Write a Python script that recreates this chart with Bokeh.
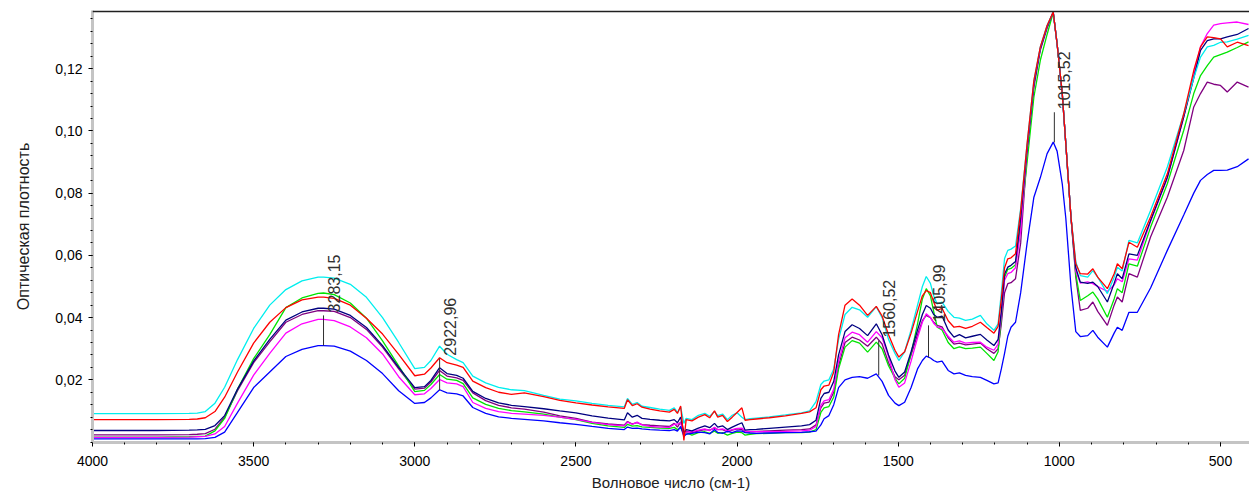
from bokeh.plotting import figure
from bokeh.models import Range1d, FixedTicker, CustomJSTickFormatter, BoxAnnotation
from bokeh.core.properties import value
from bokeh.embed import file_html
from bokeh.resources import INLINE

# Wavenumbers (cm-1)
wn = [4000, 3900, 3800, 3700, 3675, 3650, 3620, 3590, 3550, 3500,
      3450, 3400, 3350, 3300, 3283, 3250, 3200, 3150, 3100, 3050,
      3000, 2970, 2950, 2923, 2900, 2870, 2850, 2820, 2780, 2740,
      2700, 2660, 2600, 2550, 2500, 2450, 2400, 2350, 2340, 2325,
      2310, 2295, 2270, 2240, 2210, 2195, 2185, 2175, 2165, 2158,
      2140, 2120, 2100, 2085, 2070, 2060, 2045, 2030, 2015, 2000,
      1985, 1975, 1960, 1940, 1900, 1850, 1800, 1775, 1755, 1740,
      1730, 1715, 1700, 1685, 1665, 1643, 1620, 1595, 1568, 1550,
      1530, 1510, 1498, 1480, 1460, 1440, 1425, 1413, 1400, 1390,
      1379, 1364, 1345, 1327, 1310, 1291, 1270, 1245, 1225, 1203,
      1190, 1180, 1170, 1160, 1150, 1136, 1120, 1100, 1079, 1059,
      1038, 1019, 1007, 991, 980, 964, 949, 935, 912, 896,
      881, 851, 830, 820, 805, 784, 758, 717, 665, 614,
      583, 562, 541, 521, 500, 479, 448, 413]

cyan = [0.0091, 0.0091, 0.0091, 0.0092, 0.0093, 0.0098, 0.0125, 0.0176, 0.0265, 0.0365,
        0.0440, 0.0490, 0.0518, 0.0530, 0.0530, 0.0527, 0.0507, 0.0465, 0.0400, 0.0320,
        0.0236, 0.0240, 0.0262, 0.0308, 0.0282, 0.0265, 0.0255, 0.0212, 0.0190, 0.0176,
        0.0168, 0.0165, 0.0150, 0.0138, 0.0132, 0.0124, 0.0118, 0.0113, 0.0140, 0.0121,
        0.0127, 0.0115, 0.0111, 0.0106, 0.0102, 0.0110, 0.0095, 0.0112, 0.0060, 0.0076,
        0.0072, 0.0086, 0.0092, 0.0083, 0.0098, 0.0085, 0.0090, 0.0072, 0.0086, 0.0094,
        0.0080, 0.0072, 0.0075, 0.0077, 0.0081, 0.0087, 0.0094, 0.0100, 0.0130, 0.0185,
        0.0196, 0.0200, 0.0235, 0.0330, 0.0410, 0.0433, 0.0425, 0.0401, 0.0435, 0.0400,
        0.0330, 0.0285, 0.0262, 0.0290, 0.0360, 0.0440, 0.0500, 0.0532, 0.0510, 0.0470,
        0.0444, 0.0450, 0.0420, 0.0401, 0.0398, 0.0391, 0.0395, 0.0407, 0.0380, 0.0359,
        0.0380, 0.0480, 0.0590, 0.0616, 0.0620, 0.0630, 0.0750, 0.0959, 0.1162, 0.1270,
        0.1339, 0.1382, 0.1280, 0.1120, 0.0959, 0.0723, 0.0580, 0.0535, 0.0530, 0.0551,
        0.0530, 0.0477, 0.0530, 0.0562, 0.0550, 0.0648, 0.0640, 0.0744, 0.0884, 0.1055,
        0.1170, 0.1237, 0.1270, 0.1275, 0.1285, 0.1286, 0.1295, 0.1307]

red = [0.0072, 0.0072, 0.0072, 0.0073, 0.0074, 0.0078, 0.0098, 0.0144, 0.0225, 0.0318,
       0.0385, 0.0432, 0.0457, 0.0466, 0.0466, 0.0462, 0.0440, 0.0398, 0.0347, 0.0282,
       0.0213, 0.0218, 0.0238, 0.0271, 0.0255, 0.0247, 0.0240, 0.0196, 0.0175, 0.0160,
       0.0153, 0.0158, 0.0146, 0.0134, 0.0126, 0.0119, 0.0113, 0.0108, 0.0136, 0.0117,
       0.0123, 0.0112, 0.0106, 0.0100, 0.0096, 0.0105, 0.0092, 0.0116, 0.0005, 0.0072,
       0.0068, 0.0080, 0.0088, 0.0078, 0.0100, 0.0080, 0.0086, 0.0066, 0.0080, 0.0095,
       0.0110, 0.0070, 0.0072, 0.0074, 0.0078, 0.0084, 0.0092, 0.0097, 0.0110, 0.0168,
       0.0180, 0.0183, 0.0225, 0.0345, 0.0440, 0.0460, 0.0440, 0.0407, 0.0436, 0.0405,
       0.0345, 0.0295, 0.0273, 0.0290, 0.0350, 0.0420, 0.0470, 0.0487, 0.0480, 0.0450,
       0.0423, 0.0430, 0.0390, 0.0369, 0.0372, 0.0365, 0.0372, 0.0385, 0.0368, 0.0350,
       0.0372, 0.0460, 0.0560, 0.0589, 0.0592, 0.0605, 0.0744, 0.0959, 0.1162, 0.1270,
       0.1339, 0.1382, 0.1280, 0.1120, 0.0959, 0.0723, 0.0573, 0.0541, 0.0540, 0.0557,
       0.0530, 0.0493, 0.0541, 0.0573, 0.0557, 0.0642, 0.0626, 0.0723, 0.0862, 0.1055,
       0.1194, 0.1270, 0.1302, 0.1300, 0.1296, 0.1270, 0.1285, 0.1274]

navy = [0.0037, 0.0037, 0.0037, 0.0038, 0.0039, 0.0041, 0.0053, 0.0085, 0.0170, 0.0260,
        0.0330, 0.0392, 0.0418, 0.0430, 0.0430, 0.0427, 0.0407, 0.0368, 0.0310, 0.0240,
        0.0175, 0.0178, 0.0198, 0.0239, 0.0220, 0.0214, 0.0205, 0.0163, 0.0140, 0.0126,
        0.0118, 0.0114, 0.0107, 0.0100, 0.0094, 0.0084, 0.0077, 0.0071, 0.0094, 0.0080,
        0.0086, 0.0076, 0.0073, 0.0070, 0.0068, 0.0072, 0.0062, 0.0080, 0.0030, 0.0040,
        0.0036, 0.0045, 0.0052, 0.0046, 0.0060, 0.0048, 0.0052, 0.0040, 0.0048, 0.0055,
        0.0062, 0.0038, 0.0040, 0.0041, 0.0044, 0.0048, 0.0052, 0.0056, 0.0070, 0.0140,
        0.0156, 0.0160, 0.0195, 0.0280, 0.0355, 0.0377, 0.0365, 0.0342, 0.0380, 0.0345,
        0.0280, 0.0228, 0.0208, 0.0225, 0.0290, 0.0360, 0.0410, 0.0439, 0.0430, 0.0410,
        0.0401, 0.0405, 0.0360, 0.0337, 0.0345, 0.0335, 0.0340, 0.0346, 0.0328, 0.0310,
        0.0330, 0.0420, 0.0540, 0.0562, 0.0568, 0.0580, 0.0720, 0.0945, 0.1150, 0.1265,
        0.1335, 0.1382, 0.1280, 0.1120, 0.0959, 0.0723, 0.0560, 0.0514, 0.0510, 0.0514,
        0.0500, 0.0450, 0.0510, 0.0541, 0.0525, 0.0605, 0.0600, 0.0712, 0.0851, 0.1045,
        0.1170, 0.1259, 0.1290, 0.1296, 0.1296, 0.1302, 0.1310, 0.1329]

purple = [0.0023, 0.0023, 0.0023, 0.0024, 0.0025, 0.0027, 0.0041, 0.0080, 0.0165, 0.0255,
          0.0322, 0.0385, 0.0410, 0.0422, 0.0422, 0.0420, 0.0400, 0.0362, 0.0305, 0.0235,
          0.0170, 0.0173, 0.0193, 0.0230, 0.0212, 0.0206, 0.0198, 0.0158, 0.0133, 0.0118,
          0.0110, 0.0106, 0.0096, 0.0084, 0.0076, 0.0064, 0.0058, 0.0054, 0.0066, 0.0058,
          0.0062, 0.0056, 0.0054, 0.0052, 0.0050, 0.0060, 0.0048, 0.0065, 0.0025, 0.0035,
          0.0030, 0.0036, 0.0040, 0.0038, 0.0045, 0.0040, 0.0040, 0.0033, 0.0038, 0.0042,
          0.0040, 0.0032, 0.0033, 0.0034, 0.0036, 0.0038, 0.0040, 0.0042, 0.0055, 0.0110,
          0.0125, 0.0128, 0.0160, 0.0245, 0.0320, 0.0337, 0.0328, 0.0308, 0.0337, 0.0315,
          0.0255, 0.0210, 0.0200, 0.0215, 0.0280, 0.0345, 0.0390, 0.0407, 0.0400, 0.0385,
          0.0375, 0.0370, 0.0335, 0.0315, 0.0318, 0.0312, 0.0315, 0.0318, 0.0300, 0.0285,
          0.0300, 0.0380, 0.0480, 0.0509, 0.0512, 0.0525, 0.0640, 0.0930, 0.1140, 0.1260,
          0.1330, 0.1380, 0.1280, 0.1120, 0.0959, 0.0723, 0.0530, 0.0423, 0.0430, 0.0450,
          0.0420, 0.0375, 0.0440, 0.0466, 0.0450, 0.0541, 0.0530, 0.0659, 0.0787, 0.0937,
          0.1077, 0.1120, 0.1157, 0.1150, 0.1146, 0.1125, 0.1157, 0.1141]

magenta = [0.0015, 0.0015, 0.0015, 0.0016, 0.0017, 0.0018, 0.0026, 0.0050, 0.0125, 0.0215,
           0.0285, 0.0350, 0.0380, 0.0394, 0.0394, 0.0390, 0.0370, 0.0335, 0.0283, 0.0210,
           0.0152, 0.0155, 0.0172, 0.0201, 0.0190, 0.0187, 0.0178, 0.0127, 0.0108, 0.0098,
           0.0092, 0.0090, 0.0086, 0.0080, 0.0073, 0.0063, 0.0056, 0.0052, 0.0064, 0.0057,
           0.0064, 0.0055, 0.0050, 0.0048, 0.0047, 0.0057, 0.0058, 0.0062, 0.0025, 0.0032,
           0.0033, 0.0038, 0.0042, 0.0037, 0.0047, 0.0040, 0.0042, 0.0036, 0.0040, 0.0044,
           0.0045, 0.0034, 0.0034, 0.0033, 0.0033, 0.0034, 0.0036, 0.0038, 0.0050, 0.0118,
           0.0132, 0.0136, 0.0170, 0.0260, 0.0335, 0.0353, 0.0345, 0.0321, 0.0355, 0.0335,
           0.0275, 0.0200, 0.0176, 0.0190, 0.0260, 0.0335, 0.0385, 0.0412, 0.0400, 0.0382,
           0.0370, 0.0365, 0.0340, 0.0321, 0.0325, 0.0318, 0.0320, 0.0321, 0.0305, 0.0295,
           0.0315, 0.0410, 0.0520, 0.0541, 0.0545, 0.0560, 0.0680, 0.0940, 0.1150, 0.1265,
           0.1335, 0.1382, 0.1280, 0.1120, 0.0959, 0.0723, 0.0550, 0.0511, 0.0515, 0.0509,
           0.0500, 0.0484, 0.0505, 0.0525, 0.0515, 0.0589, 0.0585, 0.0709, 0.0848, 0.1045,
           0.1180, 0.1270, 0.1313, 0.1340, 0.1345, 0.1347, 0.1350, 0.1342]

green = [0.0016, 0.0016, 0.0016, 0.0017, 0.0018, 0.0019, 0.0036, 0.0076, 0.0170, 0.0268,
         0.0345, 0.0432, 0.0463, 0.0478, 0.0479, 0.0474, 0.0447, 0.0398, 0.0325, 0.0245,
         0.0162, 0.0166, 0.0185, 0.0217, 0.0202, 0.0198, 0.0188, 0.0142, 0.0121, 0.0108,
         0.0101, 0.0097, 0.0090, 0.0080, 0.0072, 0.0060, 0.0052, 0.0047, 0.0057, 0.0051,
         0.0053, 0.0049, 0.0047, 0.0045, 0.0044, 0.0047, 0.0040, 0.0045, 0.0028, 0.0030,
         0.0022, 0.0030, 0.0033, 0.0028, 0.0035, 0.0028, 0.0030, 0.0022, 0.0028, 0.0032,
         0.0030, 0.0022, 0.0025, 0.0027, 0.0028, 0.0030, 0.0030, 0.0032, 0.0040, 0.0095,
         0.0110, 0.0114, 0.0145, 0.0235, 0.0305, 0.0326, 0.0318, 0.0289, 0.0321, 0.0300,
         0.0245, 0.0205, 0.0187, 0.0205, 0.0285, 0.0380, 0.0460, 0.0493, 0.0470, 0.0420,
         0.0369, 0.0360, 0.0320, 0.0300, 0.0306, 0.0300, 0.0302, 0.0305, 0.0285, 0.0262,
         0.0290, 0.0400, 0.0530, 0.0555, 0.0558, 0.0570, 0.0700, 0.0900, 0.1109, 0.1227,
         0.1310, 0.1380, 0.1280, 0.1120, 0.0959, 0.0723, 0.0540, 0.0455, 0.0470, 0.0482,
         0.0460, 0.0401, 0.0460, 0.0493, 0.0480, 0.0573, 0.0565, 0.0690, 0.0830, 0.1002,
         0.1120, 0.1178, 0.1210, 0.1237, 0.1245, 0.1253, 0.1268, 0.1286]

blue = [0.0010, 0.0010, 0.0010, 0.0010, 0.0010, 0.0011, 0.0015, 0.0032, 0.0095, 0.0175,
        0.0225, 0.0275, 0.0298, 0.0310, 0.0310, 0.0308, 0.0292, 0.0262, 0.0220, 0.0165,
        0.0124, 0.0127, 0.0142, 0.0168, 0.0158, 0.0155, 0.0148, 0.0111, 0.0092, 0.0081,
        0.0076, 0.0073, 0.0068, 0.0062, 0.0057, 0.0050, 0.0044, 0.0040, 0.0048, 0.0044,
        0.0045, 0.0042, 0.0040, 0.0038, 0.0037, 0.0040, 0.0035, 0.0050, 0.0018, 0.0025,
        0.0028, 0.0032, 0.0030, 0.0026, 0.0040, 0.0031, 0.0028, 0.0034, 0.0030, 0.0036,
        0.0035, 0.0030, 0.0029, 0.0028, 0.0029, 0.0030, 0.0031, 0.0033, 0.0035, 0.0055,
        0.0075, 0.0085, 0.0120, 0.0175, 0.0200, 0.0208, 0.0210, 0.0205, 0.0219, 0.0195,
        0.0150, 0.0125, 0.0117, 0.0128, 0.0175, 0.0235, 0.0262, 0.0276, 0.0270, 0.0262,
        0.0257, 0.0260, 0.0230, 0.0219, 0.0222, 0.0214, 0.0210, 0.0208, 0.0198, 0.0187,
        0.0190, 0.0235, 0.0285, 0.0340, 0.0369, 0.0385, 0.0480, 0.0640, 0.0787, 0.0850,
        0.0927, 0.0964, 0.0935, 0.0830, 0.0720, 0.0500, 0.0355, 0.0339, 0.0342, 0.0359,
        0.0337, 0.0305, 0.0350, 0.0369, 0.0359, 0.0417, 0.0417, 0.0495, 0.0616, 0.0730,
        0.0800, 0.0841, 0.0860, 0.0873, 0.0873, 0.0874, 0.0885, 0.0910]

series = [
    (purple, "#800080"),
    (green, "#00E400"),
    (magenta, "#FF00FF"),
    (navy, "#000080"),
    (blue, "#0000FF"),
    (cyan, "#00EEEE"),
    (red, "#FF0000"),
]

# Peak annotations
peak_wn = [3283.15, 2922.96, 1560.52, 1405.99, 1015.52]
peak_lo = [0.0310, 0.0166, 0.0214, 0.0272, 0.0963]
peak_hi = [0.0407, 0.0268, 0.0326, 0.0375, 0.1060]
peak_lbl = ["3283,15", "2922,96", "1560,52", "1405,99", "1015,52"]

# Ticks
x_major = [4000, 3500, 3000, 2500, 2000, 1500, 1000, 500]
x_minor = list(range(4000, 399, -100))
y_major = [0.02, 0.04, 0.06, 0.08, 0.10, 0.12]
y_minor = [round(0.004 * i, 3) for i in range(0, 35)]

FONT = "Liberation Sans"
Y_TOP = 0.1387

p = figure(width=1249, height=494, output_backend="svg", toolbar_location=None,
           x_range=Range1d(4000, 410), y_range=Range1d(-0.00015, Y_TOP),
           min_border_left=92, min_border_right=0, min_border_top=10, min_border_bottom=52,
           background_fill_color="white", border_fill_color="white")
p.outline_line_color = None
p.xgrid.visible = False
p.ygrid.visible = False

for vals, col in series:
    p.line(wn, vals, line_color=col, line_width=1.3)

# dark top rule of the plot panel
p.add_layout(BoxAnnotation(bottom=Y_TOP - 0.0006, fill_color="#202020", fill_alpha=1,
                           line_color=None, level="overlay"))

p.segment(x0=peak_wn, y0=peak_lo, x1=peak_wn, y1=peak_hi, line_color="#303030", line_width=1)
p.text(x=peak_wn, y=peak_hi, text=peak_lbl, angle=90, angle_units="deg",
       text_align="left", text_baseline="top", x_offset=4, y_offset=-3,
       text_font=value(FONT), text_font_size="16px", text_color="#303030")

for ax in (p.xaxis[0], p.yaxis[0]):
    ax.axis_line_color = "#C4C4C4"
    ax.axis_line_width = 3
    ax.major_tick_line_color = "black"
    ax.minor_tick_line_color = "black"
    ax.major_tick_in = 0
    ax.major_tick_out = 4
    ax.minor_tick_in = 0
    ax.minor_tick_out = 2
    ax.major_label_text_font = FONT
    ax.major_label_text_font_size = "14px"
    ax.major_label_text_color = "black"
    ax.axis_label_text_font = FONT
    ax.axis_label_text_font_style = "normal"
    ax.axis_label_text_color = "#202020"

p.xaxis.axis_label_text_font_size = "15px"
p.yaxis.axis_label_text_font_size = "16px"
p.xaxis.ticker = FixedTicker(ticks=x_major, minor_ticks=x_minor)
p.yaxis.ticker = FixedTicker(ticks=y_major, minor_ticks=y_minor)
p.yaxis.formatter = CustomJSTickFormatter(code="return tick.toFixed(2).replace('.', ',');")
p.xaxis.axis_label = "Волновое число (см-1)"
p.yaxis.axis_label = "Оптическая плотность"
p.xaxis.major_label_standoff = 9
p.xaxis.axis_label_standoff = 5
p.yaxis.major_label_standoff = 6
p.yaxis.axis_label_standoff = 20

open("out.html", "w").write(file_html(p, INLINE))
